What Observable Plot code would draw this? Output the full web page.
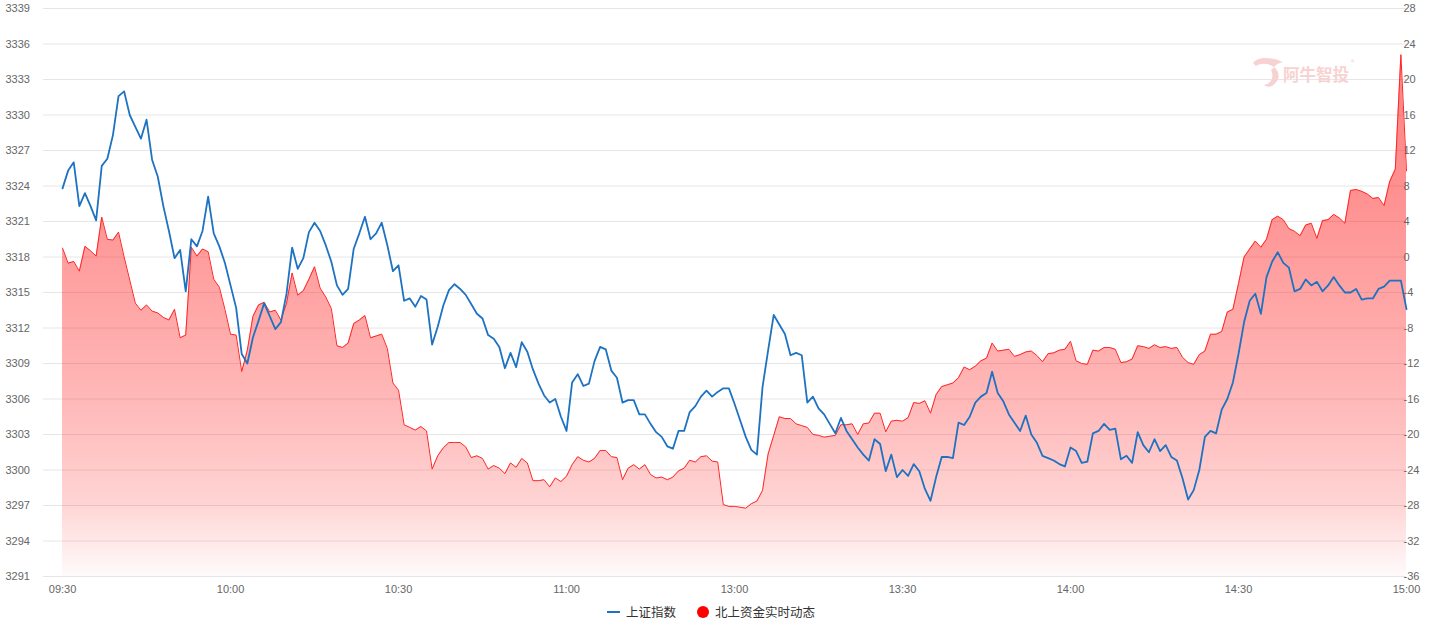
<!DOCTYPE html>
<html>
<head>
<meta charset="utf-8">
<script src="https://cdn.jsdelivr.net/npm/d3@7"></script>
<script src="https://cdn.jsdelivr.net/npm/@observablehq/plot@0.6"></script>
<style>
  html, body { margin: 0; padding: 0; background: #fff; }
  #wrap { position: relative; width: 1434px; height: 641px; overflow: hidden; font-family: "Noto Sans CJK SC", "Liberation Sans", sans-serif; }
  .lg { position: absolute; font-size: 12.5px; color: #333; line-height: 14px; white-space: nowrap; }
  #wm { position: absolute; left: 1283px; top: 64px; font-size: 16.5px; font-weight: bold; color: #f8d2d2; line-height: 20px; white-space: nowrap; }
  #wmr { position: absolute; left: 1351px; top: 57px; font-size: 7px; color: #f8d2d2; }
</style>
</head>
<body>
<div id="wrap">
  <div id="chart"></div>
  <svg style="position:absolute;left:1250px;top:54px" width="40" height="36">
    <path d="M3,9 C8,2 22,3 33,8 C28,9 26,11 24,13 C20,10 12,8 6,12 Z" fill="#f8d2d2"/>
    <path d="M24,13 C30,18 31,26 22,32 C19,33 16,33 14,31 C20,30 25,24 21,16 Z" fill="#f8d2d2"/>
  </svg>
  <div id="wm">阿牛智投</div>
  <div id="wmr">®</div>
  <div style="position:absolute;left:607px;top:611px;width:13px;height:2px;background:#1d72c2"></div>
  <div class="lg" style="left:626px;top:605px">上证指数</div>
  <div style="position:absolute;left:697px;top:606px;width:12px;height:12px;border-radius:50%;background:#ff0000"></div>
  <div class="lg" style="left:715px;top:605px">北上资金实时动态</div>
</div>
<script>
const timeLabels = ["09:30","10:00","10:30","11:00","13:00","13:30","14:00","14:30","15:00"];
const leftTicks = [3291,3294,3297,3300,3303,3306,3309,3312,3315,3318,3321,3324,3327,3330,3333,3336,3339];
const rightTicks = [-36,-32,-28,-24,-20,-16,-12,-8,-4,0,4,8,12,16,20,24,28];

// 上证指数 (left axis), one value per trading minute
const shIndex = [
3323.8,3325.3,3326.0,3322.3,3323.4,3322.3,3321.1,3325.7,3326.3,3328.3,
3331.6,3332.0,3330.0,3329.0,3328.0,3329.6,3326.2,3324.8,3322.3,3320.2,
3317.9,3318.6,3315.1,3319.5,3318.9,3320.2,3323.1,3320.0,3318.9,3317.5,
3315.6,3313.7,3309.8,3309.0,3311.2,3312.6,3314.1,3313.0,3311.9,3312.5,
3314.9,3318.8,3317.0,3317.9,3320.1,3320.9,3320.2,3319.0,3317.6,3315.6,
3314.8,3315.3,3318.7,3320.0,3321.4,3319.5,3320.0,3320.9,3319.0,3316.8,
3317.3,3314.3,3314.5,3313.8,3314.7,3314.4,3310.6,3312.1,3313.9,3315.2,
3315.7,3315.3,3314.8,3314.0,3313.2,3312.8,3311.4,3311.1,3310.4,3308.6,
3309.9,3308.7,3310.8,3310.0,3308.5,3307.3,3306.3,3305.7,3306.0,
3304.5,3303.3,3307.4,3308.1,3307.1,3307.3,3309.2,3310.4,
3310.2,3308.4,3307.8,3305.7,3305.9,3305.9,3304.7,3304.7,3303.9,3303.2,
3302.8,3302.0,3301.8,3303.3,3303.3,3304.9,3305.4,3306.2,3306.7,3306.2,
3306.6,3306.9,3306.9,3305.6,3304.2,3302.8,3301.7,3301.3,3307.0,3310.1,
3313.1,3312.3,3311.5,3309.7,3309.9,3309.7,3305.7,3306.2,3305.2,3304.7,
3303.9,3303.1,3304.4,3303.3,3302.6,3301.9,3301.3,3300.8,
3302.6,3302.2,3299.9,3301.3,3299.4,3300.0,3299.5,3300.5,3299.9,3298.4,
3297.4,3299.4,3301.1,3301.1,3301.0,3304.0,3303.8,3304.5,3305.7,3306.2,
3306.5,3308.3,3306.5,3305.8,3304.7,3304.0,3303.3,3304.6,3303.0,3302.3,
3301.2,3301.0,3300.8,3300.5,3300.3,3301.9,3301.6,3300.6,3300.7,3303.1,
3303.3,3303.9,3303.4,3303.5,3300.9,3301.2,3300.6,3303.2,
3302.1,3301.5,3302.6,3301.6,3302.1,3301.1,3300.8,3299.3,3297.5,3298.3,
3300.0,3302.8,3303.3,3303.1,3305.1,3306.0,3307.4,3309.8,3312.5,3314.3,
3314.9,3313.2,3316.3,3317.6,3318.4,3317.5,3317.1,3315.1,3315.3,3316.1,
3315.6,3315.9,3315.1,3315.6,3316.3,3315.6,3315.0,3315.0,3315.3,3314.4,
3314.5,3314.5,3315.3,3315.5,3316.0,3316.0,3316.0,3313.6
];

// 北上资金实时动态 (right axis, 亿元)
const northbound = [
1.0,-0.7,-0.5,-1.6,1.2,0.7,0.1,4.5,2.0,1.9,
2.8,0.0,-2.6,-5.2,-6.0,-5.4,-6.1,-6.3,-6.8,-7.1,
-5.9,-9.1,-8.8,1.1,0.1,0.9,0.6,-2.5,-3.4,-5.9,
-8.7,-8.8,-12.9,-10.5,-6.7,-5.4,-5.1,-6.2,-6.0,-7.1,
-5.2,-1.8,-4.3,-3.8,-2.5,-1.1,-3.5,-4.5,-5.8,
-10.0,-10.2,-9.7,-7.5,-7.1,-6.6,-9.1,-8.9,-8.7,-10.3,
-14.2,-15.0,-18.9,-19.2,-19.5,-19.1,-19.6,-23.9,-22.4,-21.5,
-20.9,-20.9,-20.9,-21.4,-22.6,-22.4,-22.7,-23.9,-23.5,-23.8,
-24.4,-23.2,-23.7,-22.7,-23.2,-25.2,-25.2,-25.1,-25.9,-24.9,
-25.3,-24.7,-23.4,-22.5,-22.9,-23.1,-22.7,-21.8,
-21.8,-22.5,-22.6,-25.1,-23.8,-23.4,-23.9,-23.4,-24.5,-24.9,
-24.8,-25.1,-24.8,-24.1,-23.8,-22.9,-23.1,-22.5,-22.4,-23.0,
-23.1,-27.9,-28.1,-28.1,-28.2,-28.3,-27.8,-27.5,-26.3,-22.2,
-20.1,-18.0,-18.2,-18.2,-18.8,-19.0,-19.2,-20.0,-20.1,-20.3,
-20.2,-20.1,-18.9,-18.9,-18.8,-20.0,-18.8,-18.7,
-17.6,-17.6,-19.7,-18.5,-18.4,-18.5,-18.1,-16.4,-16.5,-16.2,
-17.6,-15.5,-14.6,-14.4,-14.2,-13.6,-12.4,-12.7,-12.3,-11.7,
-11.4,-9.7,-10.6,-10.5,-10.4,-11.2,-11.0,-10.7,-10.6,-11.1,
-11.8,-10.9,-10.8,-10.5,-10.4,-9.5,-11.7,-12.0,-12.1,-10.5,
-10.6,-10.2,-10.2,-10.4,-11.9,-11.8,-11.5,-10.0,
-10.1,-10.3,-9.9,-10.2,-10.1,-10.3,-10.2,-11.3,-11.9,-12.1,
-11.0,-10.6,-8.7,-8.7,-8.4,-6.2,-5.9,-3.0,0.0,0.9,
1.8,1.1,2.0,4.2,4.6,4.2,3.2,2.9,2.4,3.6,
3.8,2.1,4.1,4.2,4.8,4.4,3.8,7.5,7.6,7.4,
7.1,6.6,6.7,5.8,8.5,9.9,22.8,9.7
];

const L0 = leftTicks[0], L1 = leftTicks[leftTicks.length - 1];
const R0 = rightTicks[0], R1 = rightTicks[rightTicks.length - 1];
const toLeft = v => L0 + (v - R0) * (L1 - L0) / (R1 - R0);
const toRight = y => R0 + (y - L0) * (R1 - R0) / (L1 - L0);

const n = Math.min(shIndex.length, northbound.length);
const rows = d3.range(n).map(i => ({t: i, sh: shIndex[i], nb: northbound[i], nbY: toLeft(northbound[i])}));
const last = n - 1;
const tickPos = timeLabels.map((_, k) => k * last / (timeLabels.length - 1));

const chart = Plot.plot({
  width: 1434,
  height: 600,
  marginLeft: 43,
  marginRight: 28,
  marginTop: 8,
  marginBottom: 24,
  style: {fontFamily: "'Liberation Sans', 'Noto Sans CJK SC', sans-serif", fontSize: "11px", background: "transparent"},
  x: {domain: [-3.4, last]},
  y: {domain: [L0, L1]},
  marks: [
    Plot.ruleY(leftTicks, {stroke: "#e6e6e6", strokeWidth: 1}),
    Plot.areaY(rows, {x: "t", y1: L0, y2: "nbY", fill: "url(#nbGrad)"}),
    Plot.lineY(rows, {x: "t", y: "nbY", stroke: "#ff2626", strokeWidth: 1}),
    Plot.lineY(rows, {x: "t", y: "sh", stroke: "#1d72c2", strokeWidth: 1.8}),
    Plot.axisY({ticks: leftTicks, anchor: "left", tickSize: 0, tickPadding: 0, textAnchor: "start", dx: -38, color: "#666", label: null, tickFormat: d => String(d)}),
    Plot.axisY({ticks: rightTicks.map(toLeft), anchor: "right", tickSize: 0, tickPadding: 0, textAnchor: "start", dx: -3, color: "#666", label: null, tickFormat: d => String(Math.round(toRight(d)))}),
    Plot.axisX({ticks: tickPos, tickSize: 0, tickPadding: 9, color: "#666", label: null, tickFormat: (d) => timeLabels[Math.round(d * (timeLabels.length - 1) / last)]})
  ]
});

const ns = "http://www.w3.org/2000/svg";
const defs = document.createElementNS(ns, "defs");
const grad = document.createElementNS(ns, "linearGradient");
grad.setAttribute("id", "nbGrad");
grad.setAttribute("gradientUnits", "userSpaceOnUse");
grad.setAttribute("x1", "0"); grad.setAttribute("x2", "0");
grad.setAttribute("y1", "8"); grad.setAttribute("y2", "576");
[[0, 0.56], [0.33, 0.48], [0.69, 0.31], [0.87, 0.19], [1, 0.02]].forEach(([o, a]) => {
  const s = document.createElementNS(ns, "stop");
  s.setAttribute("offset", o);
  s.setAttribute("stop-color", "#ff1a1a");
  s.setAttribute("stop-opacity", a);
  grad.appendChild(s);
});
defs.appendChild(grad);
chart.insertBefore(defs, chart.firstChild);
document.getElementById("chart").appendChild(chart);
</script>
</body>
</html>
